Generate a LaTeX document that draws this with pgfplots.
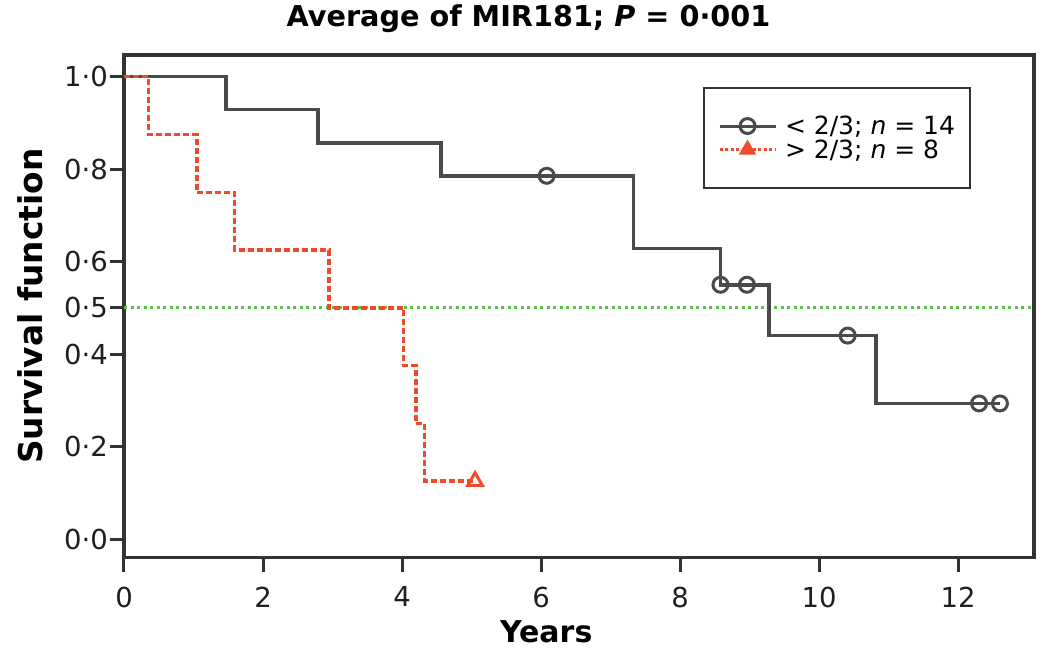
\documentclass[border=0pt]{standalone}
\usepackage{fontspec}
\setmainfont{DejaVu Sans}
\usepackage{pgfplots}
\pgfplotsset{compat=1.18}
\definecolor{axcol}{HTML}{333333}
\definecolor{greyc}{HTML}{4A4A4A}
\definecolor{redc}{HTML}{F04A2C}
\definecolor{greenc}{HTML}{5CC04A}
\begin{document}
\begin{tikzpicture}
\useasboundingbox (0,0) rectangle (1050pt,659pt);
\begin{axis}[
  at={(124pt,101.5pt)}, anchor=south west,
  scale only axis, width=910pt, height=502.5pt,
  xmin=0, xmax=13.09, ymin=-0.04, ymax=1.047,
  xtick={0,2,4,6,8,10,12},
  xticklabels={0,2,4,6,8,10,12},
  ytick={0,0.2,0.4,0.5,0.6,0.8,1.0},
  yticklabels={0·0,0·2,0·4,0·5,0·6,0·8,1·0},
  /pgf/number format/assume math mode=true,
  tick pos=left, tick align=outside,
  major tick length=14pt,
  tick style={line width=3pt, color=axcol},
  axis line style={line width=3.5pt, color=axcol},
  ticklabel style={font=\fontsize{27.5}{32}\selectfont, text=black!88},
  yticklabel style={inner xsep=2pt},
  xticklabel style={inner ysep=15pt},
  title={\textbf{Average of MIR181; \textit{P} = 0·001}},
  title style={font=\fontsize{28.7}{34}\selectfont, at={(axis description cs:0.4445,1.0511)}, anchor=base, inner sep=0pt, yshift=-3pt},
  xlabel={\textbf{Years}},
  xlabel style={font=\fontsize{30}{36}\selectfont, at={(axis description cs:0.464,-0.1701)}, anchor=base, inner sep=0pt},
  ylabel={\textbf{Survival function}},
  ylabel style={font=\fontsize{32.8}{38}\selectfont, at={(axis description cs:-0.0901,0.5)}, anchor=base, inner sep=0pt},
  legend cell align=left,
  legend style={at={(axis description cs:0.9308,0.9363)}, anchor=north east,
    draw=axcol, line width=2pt, font=\fontsize{25}{29}\selectfont,
    inner xsep=14pt, inner ysep=27pt, row sep=1.5pt, nodes={inner sep=1pt}},
  legend image code/.code={\draw[mark repeat=2,mark phase=2,#1] plot coordinates {(0pt,0pt)(28pt,0pt)(56pt,0pt)}; \path (63pt,0pt);},
]
% median line
\addplot[greenc, line width=3pt, dash pattern=on 3pt off 3.5pt, forget plot] coordinates {(0,0.5) (13.09,0.5)};
% low group (< 2/3)
\addplot[greyc, line width=3.5pt, const plot, forget plot] coordinates {
(0,1) (1.47,0.9286) (2.79,0.8571) (4.56,0.7857) (7.33,0.6286) (8.58,0.5500) (9.28,0.4400) (10.82,0.2933) (12.60,0.2933)};
\addplot[greyc, only marks, mark=o, mark size=7.5pt, mark options={line width=3pt}, forget plot] coordinates {
(6.08,0.7857) (8.58,0.5500) (8.96,0.5500) (10.41,0.4400) (12.30,0.2933) (12.60,0.2933)};
% high group (> 2/3)
\addplot[redc, line width=3.5pt, const plot, dash pattern=on 6pt off 3pt, forget plot] coordinates {
(0,1) (0.35,0.875) (1.05,0.75) (1.59,0.625) (2.95,0.5) (4.02,0.375) (4.20,0.25) (4.32,0.125) (5.05,0.125)};
\addplot[redc, only marks, mark=triangle, mark size=8.5pt, mark options={line width=3pt, solid}, forget plot] coordinates {(5.05,0.125)};
\addlegendimage{greyc, line width=3pt, mark=o, mark size=7.5pt, mark options={solid, line width=3pt}}
\addlegendentry{< 2/3; \textit{n} = 14}
\addlegendimage{redc, line width=2.5pt, dash pattern=on 3pt off 2.5pt, mark=triangle*, mark size=8.5pt, mark options={solid, line width=1.5pt}}
\addlegendentry{> 2/3; \textit{n} = 8}
\end{axis}
\end{tikzpicture}
\end{document}
